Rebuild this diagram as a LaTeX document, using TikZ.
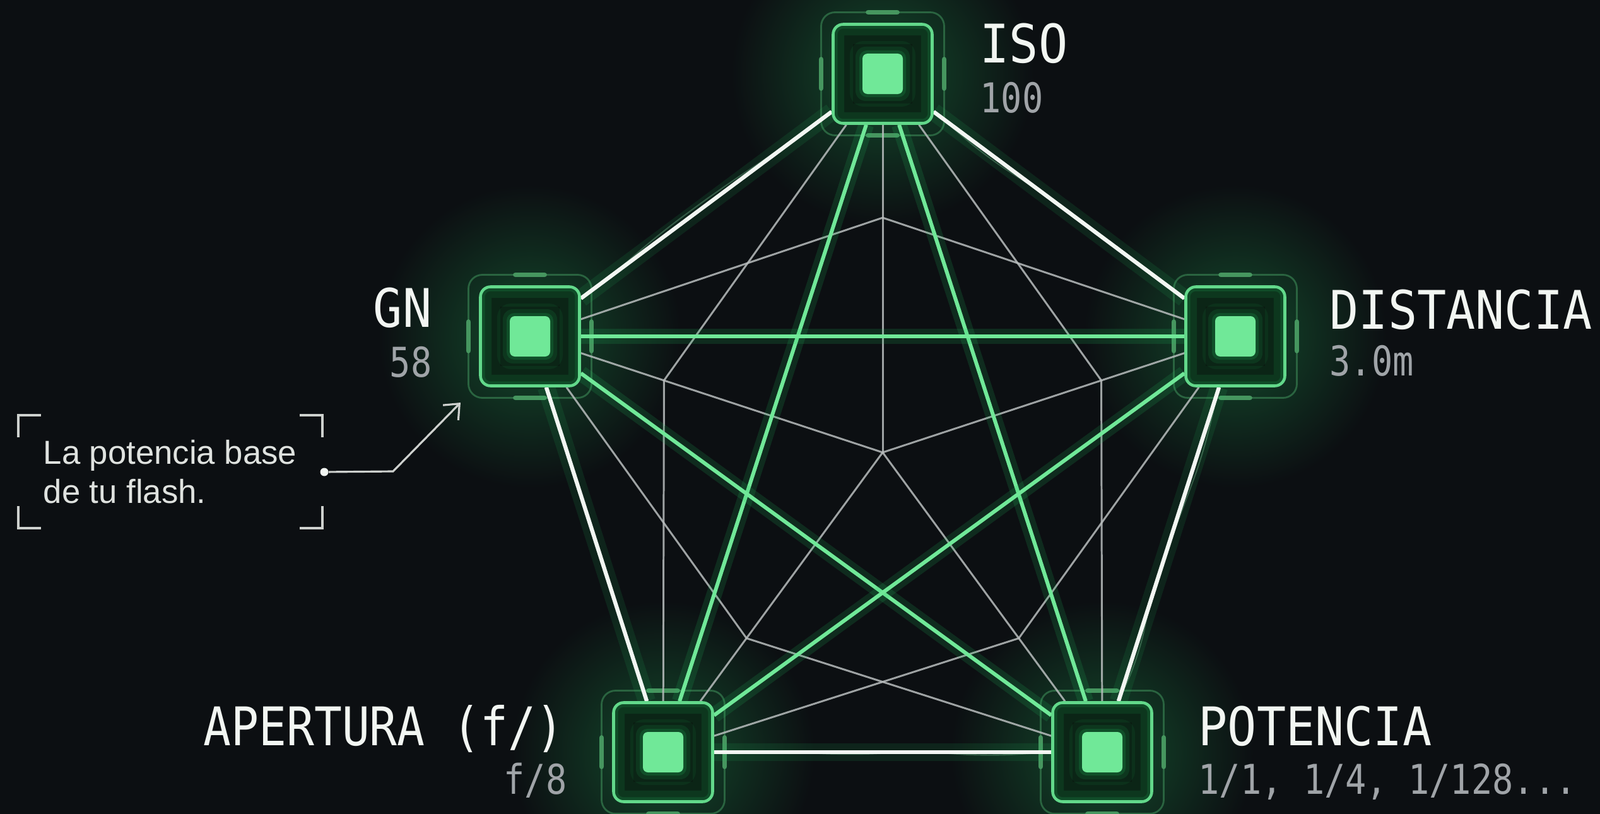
\documentclass[tikz,border=0pt]{standalone}
\usepackage{fontspec}
\setmainfont{Liberation Sans}
\newfontfamily\titlefont[FakeStretch=0.91]{DejaVu Sans Mono}
\newfontfamily\valuefont[FakeStretch=0.85]{DejaVu Sans Mono}
\usetikzlibrary{calc,arrows.meta,decorations.pathmorphing}

\definecolor{bgdark}{RGB}{12,15,18}
\definecolor{mint}{RGB}{112,232,152}
\definecolor{rimgreen}{RGB}{98,216,138}
\definecolor{glowgreen}{RGB}{34,190,95}
\definecolor{webgrey}{RGB}{185,190,190}
\definecolor{rimwhite}{RGB}{242,246,242}
\definecolor{valgrey}{RGB}{160,164,168}
\definecolor{framegreen}{RGB}{42,100,64}
\definecolor{tabgreen}{RGB}{70,150,95}
\definecolor{cellfill}{RGB}{10,24,16}

\pgfdeclarelayer{back}
\pgfdeclarelayer{wires}
\pgfsetlayers{back,wires,main}

\tikzset{
  param/.style={rectangle, rounded corners=0.16cm, minimum size=1.57cm, inner sep=0pt,
    draw=rimgreen, line width=1.3pt, fill=cellfill,
    path picture={
      \draw[glowgreen, opacity=0.08, line width=18pt] (path picture bounding box.south west) rectangle (path picture bounding box.north east);
      \draw[glowgreen, opacity=0.12, line width=10pt] (path picture bounding box.south west) rectangle (path picture bounding box.north east);
      \draw[glowgreen, opacity=0.16, line width=4pt] (path picture bounding box.south west) rectangle (path picture bounding box.north east);
      \fill[glowgreen, opacity=0.08, rounded corners=0.22cm] ($(path picture bounding box.center)+(-0.52,-0.52)$) rectangle ++(1.04,1.04);
      \fill[glowgreen, opacity=0.12, rounded corners=0.16cm] ($(path picture bounding box.center)+(-0.43,-0.43)$) rectangle ++(0.86,0.86);
      \fill[glowgreen, opacity=0.18, rounded corners=0.12cm] ($(path picture bounding box.center)+(-0.37,-0.37)$) rectangle ++(0.74,0.74);
      \fill[mint, rounded corners=0.08cm] ($(path picture bounding box.center)+(-0.32,-0.32)$) rectangle ++(0.64,0.64);
    }},
  frame/.style={draw=framegreen, line width=0.8pt, rounded corners=0.22cm},
  tab/.style={draw=tabgreen, line width=2.2pt, line cap=round},
  web/.style={draw=webgrey, line width=0.85pt, opacity=0.85},
  star/.style={draw=mint, line width=1.7pt,
    preaction={draw=glowgreen, line width=7pt, opacity=0.16}},
  wisp/.style={draw=mint!60!webgrey, line width=0.6pt, opacity=0.3, rounded corners=0.4cm,
    decorate, decoration={random steps, segment length=1.1cm, amplitude=0.09cm}},
  rim/.style={draw=rimwhite, line width=1.8pt,
    preaction={draw=glowgreen, line width=8pt, opacity=0.12},
    preaction={wisp}},
  title/.style={font=\titlefont\fontsize{24}{24}\selectfont, text=rimwhite, inner sep=0pt},
  value/.style={font=\valuefont\fontsize{18.5}{18.5}\selectfont, text=valgrey, inner sep=0pt},
  note/.style={font=\fontsize{15}{18}\selectfont, text=rimwhite!92!black, inner sep=0pt},
  bracket/.style={draw=rimwhite!85!black, line width=0.9pt},
}

\begin{document}
\begin{tikzpicture}
\useasboundingbox (0,0) rectangle (25.36,12.89);

% the five parameters
\node[param] (iso) at (13.99,11.72) {};
\node[param] (gn) at (8.40,7.56) {};
\node[param] (dist) at (19.58,7.56) {};
\node[param] (aper) at (10.51,0.97) {};
\node[param] (pot) at (17.47,0.97) {};
\coordinate (c) at (13.99,5.72);

% labels
\node[title, anchor=base west] (iso-name) at (15.53,11.89) {ISO};
\node[value, anchor=base west] (iso-val) at (15.53,11.11) {100};
\node[title, anchor=base east] (gn-name) at (6.85,7.71) {GN};
\node[value, anchor=base east] (gn-val) at (6.85,6.92) {58};
\node[title, anchor=base west] (dist-name) at (21.07,7.68) {DISTANCIA};
\node[value, anchor=base west] (dist-val) at (21.07,6.94) {3.0m};
\node[title, anchor=base east] (aper-name) at (8.94,1.08) {\scalebox{0.95}[1]{APERTURA (f/)}};
\node[value, anchor=base east] (aper-val) at (8.99,0.31) {f/8};
\node[title, anchor=base west] (pot-name) at (18.99,1.08) {POTENCIA};
\node[value, anchor=base west] (pot-val) at (18.99,0.31) {1/1, 1/4, 1/128...};

% callout
\node[note, anchor=base west] (note-a) at (0.68,5.54) {La potencia base};
\node[note, anchor=base west] (note-b) at (0.68,4.92) {de tu flash.};
\draw[bracket] (0.29,5.96) |- (0.65,6.31);
\draw[bracket] (4.75,6.31) -| (5.11,5.96);
\draw[bracket] (0.29,4.87) |- (0.65,4.52);
\draw[bracket] (4.75,4.52) -| (5.11,4.87);
\node[circle, fill=rimwhite, inner sep=0pt, minimum size=0.13cm] (note-dot) at (5.14,5.41) {};
\coordinate (note-bend) at (6.23,5.42);
\coordinate (note-tip) at (7.30,6.51);
\draw[bracket, -{Straight Barb[length=2mm,width=3.4mm]}] (note-dot) -- (note-bend) -- (note-tip);

\begin{pgfonlayer}{back}
\fill[bgdark] (-0.2,-0.2) rectangle (25.6,13.1);
\foreach \n in {iso,gn,dist,aper,pot}{
  \shade[inner color=glowgreen!34!bgdark, outer color=bgdark] (\n) circle (2.4cm);
  \draw[frame] ($(\n)+(-0.975,-0.975)$) rectangle ($(\n)+(0.975,0.975)$);
  \draw[tab] ($(\n)+(-0.23,0.975)$) -- ++(0.46,0);
  \draw[tab] ($(\n)+(-0.23,-0.975)$) -- ++(0.46,0);
  \draw[tab] ($(\n)+(-0.975,-0.23)$) -- ++(0,0.46);
  \draw[tab] ($(\n)+(0.975,-0.23)$) -- ++(0,0.46);
}
\end{pgfonlayer}

\begin{pgfonlayer}{wires}
% inner web
\foreach \n in {iso,gn,dist,aper,pot}{
  \coordinate (w-\n) at ($(c)!0.62!(\n)$);
  \draw[web] (c) -- (\n);
}
\draw[web] (gn) -- (w-iso) -- (dist);
\draw[web] (iso) -- (w-gn) -- (aper);
\draw[web] (iso) -- (w-dist) -- (pot);
\draw[web] (gn) -- (w-aper) -- (pot);
\draw[web] (dist) -- (w-pot) -- (aper);
% star
\draw[star] (iso) -- (aper);
\draw[star] (iso) -- (pot);
\draw[star] (gn) -- (dist);
\draw[star] (gn) -- (pot);
\draw[star] (dist) -- (aper);
% outer rim
\draw[rim] (iso) -- (gn);
\draw[rim] (iso) -- (dist);
\draw[rim] (gn) -- (aper);
\draw[rim] (dist) -- (pot);
\draw[rim] (aper) -- (pot);
\end{pgfonlayer}
\end{tikzpicture}
\end{document}
